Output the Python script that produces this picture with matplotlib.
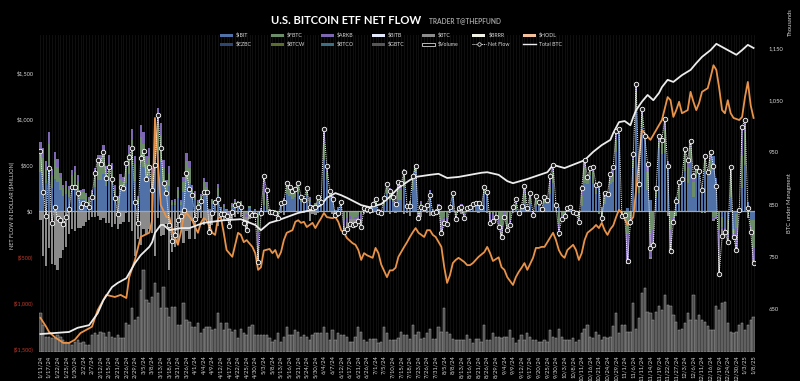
import numpy as np
import pandas as pd
import matplotlib
matplotlib.use('Agg')
import matplotlib.pyplot as plt
from matplotlib.patches import Rectangle
from matplotlib.lines import Line2D

plt.rcParams['font.family'] = ['Lato', 'DejaVu Sans']

# trading days shown on the chart
holidays = ['2024-01-15', '2024-02-19', '2024-03-29', '2024-05-27', '2024-06-19',
            '2024-07-04', '2024-09-02', '2024-11-28', '2024-12-25', '2025-01-01']
days = pd.bdate_range('2024-01-11', '2025-01-08')
days = days[~days.isin(pd.to_datetime(holidays))]
date_labels = [f'{d.month}/{d.day}/{d.strftime("%y")}' for d in days]

# daily net flow, $ million (white dotted line)
net_flow = [
    655, 203, -50, 463, -127, 47, -80, -98, -145, -69,
    22, 257, 264, 199, 47, 83, 76, 47, 156, 409,
    554, 510, 644, 355, 481, 344, 145, -33, 264, 246,
    525, 590, 680, 101, -134, 572, 655, 344, 481, 228,
    505, 1045, 684, 300, 200, -154, -326, -261, -94, -54,
    15, 418, 243, 179, -86, 40, 113, 210, 210, -224,
    -18, 101, 127, -33, -36, -54, -160, -7, 65, 76,
    47, -127, -206, -25, -43, -43, -550, -25, 380, 228,
    -10, -10, -25, -80, 83, 100, 303, 257, 222, 241,
    305, 156, 120, 252, 47, 36, 47, 156, 101, 887,
    488, 217, 131, -40, -18, 100, -226, -200, -145, -152,
    -140, -105, -175, 31, 21, 11, 73, 129, -13, -20,
    143, 295, 216, 156, 78, 310, 301, 422, 53, 54,
    384, 486, -78, 45, 31, 65, 174, -25, -7, 47,
    -235, -134, -145, 47, 192, -90, 29, 47, -80, 29,
    47, 76, 90, 83, 47, 264, 210, -127, -105, -62,
    -170, -279, -62, -206, -152, 47, 127, -25, 54, 271,
    29, 199, -43, 163, 101, 18, 148, 120, 380, 500,
    65, -243, -90, -50, 30, 40, -10, -25, -116, 253,
    555, 373, 463, 474, 279, 294, -79, 192, 188, 402,
    479, 870, 893, -54, -40, -541, -116, 621, 1376, 294,
    1114, 817, 510, -400, -371, 255, 816, 773, 1002, 490,
    -438, -123, 105, 320, 353, 676, 556, 766, 376, 479,
    439, 223, 597, 428, 637, 493, 275, -680, -277, -226,
    -338, 475, -279, -426, 11, 916, 988, 29, -224, -568,
]

gbtc = [
    -95, -484, -594, -398, -579, -590, -641, -515, -429, -394,
    -255, -192, -220, -187, -182, -159, -120, -100, -70, -60,
    -51, -95, -73, -131, -133, -175, -137, -199, -140, -120,
    -22, -125, -216, -492, -300, -368, -200, -250, -200, -240,
    -494, -79, -276, -257, -139, -642, -443, -386, -358, -170,
    -350, -212, -299, -104, -302, -81, -75, -150, -100, -210,
    -150, -17, -166, -80, -110, -80, -135, -90, -60, -35,
    -66, -130, -140, -83, -25, -70, -167, -54, 63, 4,
    -30, -20, -40, -50, -20, -40, -10, -15, 0, -10,
    -15, -10, -20, -10, -105, -30, -40, -20, -15, 28,
    15, -15, -30, -40, -60, -10, -60, -80, -60, -62,
    -53, -34, -90, -30, -20, -30, -27, 0, -32, -30,
    28, 25, -37, -10, -20, -15, -10, -30, -20, -53,
    -10, -12, -10, -60, -15, -20, -50, -10, -20, -30,
    -40, -50, -30, -20, 0, -20, -15, -30, -20, -15,
    -10, -10, -10, -20, -15, -10, -20, -20, -20, -30,
    -30, -50, -10, -60, -20, -20, 0, -10, -10, -10,
    -10, 0, -10, 0, -10, -10, 0, -10, 0, 0,
    -10, -40, -10, -10, 0, -10, -10, -10, -20, 0,
    0, 0, 0, 0, 0, 0, -20, 0, 0, 0,
    0, 0, 0, 0, -10, -20, -10, 0, 0, -10,
    0, 0, 0, -20, -30, -10, 0, 0, 0, -50,
    -40, -20, -10, 0, 0, 0, 0, 0, 0, -10,
    0, 0, -20, 0, 0, -20, -20, -188, -80, -30,
    -40, 0, -20, -20, -10, 0, 0, -20, -50, -40,
]

ibit = [
    420, 380, 300, 470, 250, 350, 310, 230, 160, 180,
    150, 250, 270, 210, 125, 135, 110, 80, 125, 260,
    335, 335, 400, 270, 340, 290, 155, 90, 225, 205,
    305, 400, 500, 330, 90, 525, 475, 330, 380, 260,
    560, 620, 535, 310, 190, 270, 65, 70, 145, 65,
    205, 350, 300, 155, 120, 65, 105, 200, 170, 20,
    75, 65, 160, 30, 40, 15, 0, 45, 70, 60,
    62, 0, 0, 32, 0, 15, -37, 15, 60, 20,
    0, 0, 0, 0, 60, 80, 180, 160, 135, 150,
    190, 100, 90, 160, 100, 40, 55, 110, 75, 550,
    350, 150, 120, 10, 30, 70, 0, 0, 0, 0,
    -2, 0, 0, 45, 25, 20, 80, 70, 0, 0,
    60, 187, 121, 100, 72, 120, 117, 260, 60, 80,
    230, 420, 0, 70, 35, 70, 205, 20, 20, 50,
    0, 0, 0, 50, 140, 0, 30, 60, 0, 35,
    40, 60, 70, 70, 45, 200, 200, 0, 0, 0,
    0, 0, 0, 0, 0, 20, 20, 0, 25, 90,
    15, 80, 0, 60, 50, 15, 90, 80, 180, 300,
    40, 40, 0, 0, 20, 30, 0, 0, 0, 50,
    300, 290, 390, 309, 180, 330, 40, 80, 165, 290,
    315, 640, 872, 0, 0, 38, 0, 470, 1100, 200,
    900, 780, 230, 120, 0, 150, 680, 620, 630, 510,
    0, 0, 140, 135, 340, 430, 300, 570, 150, 370,
    430, 240, 430, 390, 440, 600, 360, 0, -70, -190,
    -100, 150, -200, -36, 10, 250, 500, 100, -100, -100,
]

fbtc = [
    200, 200, 160, 260, 140, 200, 170, 130, 90, 100,
    90, 140, 150, 120, 70, 75, 60, 45, 70, 140,
    180, 180, 210, 145, 185, 155, 85, 50, 120, 110,
    165, 215, 270, 180, 50, 280, 255, 180, 205, 140,
    300, 340, 290, 165, 100, 145, 35, 35, 80, 35,
    110, 190, 165, 85, 65, 35, 55, 110, 95, 0,
    40, 35, 90, 12, 22, 8, -10, 25, 38, 34,
    34, 3, -30, 18, -10, 8, -191, 8, 140, 110,
    10, 5, 10, -20, 25, 40, 90, 75, 60, 65,
    85, 45, 30, 70, 35, 15, 20, 40, 25, 190,
    80, 50, 25, -10, 5, 25, -100, -80, -50, -83,
    -60, -40, -35, 10, 10, 12, 12, 50, 10, 5,
    40, 61, 91, 40, 15, 115, 120, 120, 5, 15,
    110, 50, -30, 20, 5, 10, 10, -20, -5, 15,
    -100, -60, -80, 10, 30, -40, 5, 10, -30, 5,
    10, 15, 20, 20, 10, 45, 15, -30, -30, -20,
    -60, -162, -15, -150, -85, 30, 65, 0, 20, 100,
    20, 60, -10, 60, 40, 5, 30, 30, 80, 120,
    25, -144, -40, -20, 5, 10, 5, -10, -60, 110,
    170, 50, 40, 110, 60, -20, -50, 70, 10, 60,
    100, 133, 12, -20, -20, -250, -70, 95, 190, 70,
    130, 20, 190, -250, -200, 80, 80, 110, 260, 10,
    -200, -60, -40, 150, 0, 210, 180, 120, 170, 80,
    0, -20, 140, 20, 120, -60, -50, -208, -100, 0,
    -150, 250, -40, -154, 10, 360, 370, -50, -60, -300,
]

# traded dollar volume, $ billion
volume = [
    5.7, 3.9, 2.2, 2.2, 2.0, 2.0, 2.5, 2.2, 1.7, 1.5,
    1.3, 1.0, 1.5, 1.7, 1.3, 1.5, 1.0, 1.0, 2.5, 2.7,
    2.5, 2.9, 2.7, 2.2, 2.9, 2.2, 2.0, 2.5, 2.0, 2.0,
    4.2, 3.9, 6.3, 4.6, 5.0, 9.0, 11.9, 7.5, 7.1, 8.0,
    10.0, 8.5, 6.3, 9.4, 6.3, 5.1, 6.5, 6.5, 3.9, 3.9,
    7.1, 4.6, 4.4, 3.6, 3.6, 4.2, 2.7, 3.3, 3.6, 3.6,
    3.2, 3.4, 5.6, 4.2, 3.2, 4.2, 3.4, 2.9, 3.2, 2.0,
    3.4, 2.7, 2.5, 3.6, 3.9, 2.5, 2.5, 2.5, 2.5, 2.5,
    2.0, 1.5, 1.7, 2.7, 1.5, 2.2, 3.6, 2.5, 2.5, 3.2,
    2.9, 2.2, 2.5, 2.2, 1.7, 2.5, 2.7, 2.7, 2.7, 3.6,
    2.7, 1.7, 3.2, 1.7, 2.7, 2.5, 2.4, 2.2, 1.5, 1.5,
    2.2, 3.6, 2.9, 1.7, 1.5, 1.9, 1.9, 1.9, 1.3, 1.5,
    3.6, 2.7, 1.7, 1.7, 1.7, 2.0, 2.9, 2.5, 2.5, 1.9,
    3.9, 2.5, 2.9, 1.9, 2.0, 2.7, 3.4, 1.9, 1.9, 3.6,
    2.9, 6.3, 2.9, 2.6, 1.9, 1.7, 1.7, 1.8, 1.7, 2.5,
    1.9, 1.3, 1.9, 1.9, 1.4, 3.9, 1.7, 1.8, 2.8, 2.2,
    2.2, 2.0, 2.1, 2.1, 3.2, 2.0, 1.3, 1.7, 2.5, 1.7,
    2.7, 2.2, 1.7, 1.7, 1.5, 1.5, 1.7, 1.5, 3.2, 2.2,
    2.0, 3.3, 2.2, 1.7, 1.7, 1.8, 2.0, 1.5, 1.7, 2.7,
    3.3, 3.9, 2.2, 2.0, 2.9, 2.5, 1.7, 2.2, 2.0, 2.2,
    3.7, 5.6, 2.7, 3.9, 3.9, 2.9, 2.9, 7.1, 3.4, 4.9,
    8.5, 9.2, 5.8, 5.6, 4.6, 5.8, 6.6, 6.1, 8.3, 6.8,
    6.6, 5.4, 4.4, 3.2, 3.4, 4.2, 5.6, 4.6, 8.3, 4.6,
    5.4, 4.6, 4.4, 3.7, 3.2, 3.2, 6.6, 6.1, 7.1, 7.3,
    4.2, 2.9, 2.7, 2.9, 3.9, 4.2, 3.2, 3.9, 4.6, 5.1,
]

# (day index, thousand BTC)
total_btc_pts = [
    (0, 602), (10, 606), (13, 614), (17, 619), (20, 642), (22, 667), (25, 692),
    (27, 700), (30, 709), (33, 738), (35, 753), (38, 769), (39, 778), (40, 796),
    (42, 811), (43, 811), (45, 801), (49, 805), (52, 805), (57, 815), (64, 820),
    (70, 822), (75, 811), (77, 801), (80, 815), (83, 820), (90, 834), (95, 840),
    (98, 849), (100, 863), (103, 872), (105, 868), (107, 863), (112, 849),
    (115, 845), (119, 851), (122, 865), (125, 882), (129, 897), (131, 903),
    (136, 907), (139, 909), (142, 901), (146, 903), (154, 911), (156, 912),
    (160, 907), (163, 895), (165, 891), (170, 899), (177, 912), (179, 926),
    (183, 920), (190, 935), (193, 951), (196, 964), (199, 974), (200, 987),
    (202, 1008), (204, 1010), (206, 1002), (207, 1018), (208, 1031), (210, 1047),
    (212, 1060), (214, 1050), (216, 1064), (217, 1075), (219, 1089), (221, 1085),
    (224, 1098), (227, 1108), (229, 1121), (231, 1133), (234, 1146), (236, 1158),
    (238, 1152), (240, 1146), (243, 1137), (245, 1146), (247, 1156), (249, 1150),
]

# (day index, value on right scale)
hodl_pts = [
    (0, 633), (2, 616), (3, 606), (5, 596), (8, 585), (10, 585), (12, 591), (14, 604),
    (16, 610), (18, 616), (20, 648), (23, 677), (26, 673), (28, 677), (30, 671),
    (31, 711), (33, 744), (35, 788), (38, 796), (39, 820), (40, 1016), (41, 935),
    (42, 849), (44, 826), (45, 826), (46, 801), (48, 773), (49, 796), (50, 826),
    (51, 834), (53, 820), (54, 807), (55, 796), (56, 815), (57, 824), (58, 820),
    (60, 796), (61, 792), (62, 824), (63, 826), (64, 796), (65, 763), (67, 750),
    (68, 773), (69, 796), (70, 792), (71, 778), (72, 782), (74, 769), (75, 757),
    (76, 725), (77, 730), (78, 762), (80, 765), (81, 757), (82, 763), (83, 748),
    (84, 759), (85, 782), (86, 796), (88, 801), (89, 817), (90, 820), (91, 815),
    (92, 817), (93, 807), (95, 815), (96, 805), (97, 815), (98, 824), (99, 834),
    (100, 826), (102, 824), (103, 826), (104, 817), (105, 801), (106, 796),
    (107, 786), (109, 776), (110, 773), (111, 763), (112, 744), (113, 757),
    (114, 753), (116, 748), (117, 767), (118, 757), (119, 735), (121, 711),
    (122, 724), (123, 724), (124, 729), (125, 750), (127, 769), (128, 778),
    (129, 788), (130, 797), (131, 805), (132, 796), (134, 788), (135, 801),
    (136, 801), (137, 792), (138, 788), (140, 769), (141, 730), (142, 700),
    (143, 715), (144, 738), (145, 744), (146, 748), (148, 740), (149, 734),
    (150, 734), (151, 738), (152, 744), (153, 750), (155, 759), (156, 769),
    (157, 757), (158, 742), (160, 749), (161, 730), (162, 725), (163, 711),
    (165, 696), (166, 711), (167, 721), (168, 729), (169, 738), (170, 725),
    (172, 748), (173, 767), (174, 767), (175, 769), (176, 769), (177, 778),
    (179, 796), (180, 782), (181, 763), (182, 753), (183, 748), (184, 763),
    (186, 773), (187, 763), (188, 744), (189, 757), (190, 782), (191, 796),
    (193, 805), (194, 811), (195, 805), (196, 815), (197, 801), (198, 792),
    (199, 803), (200, 810), (201, 826), (202, 840), (203, 834), (205, 811),
    (207, 826), (208, 878), (210, 993), (212, 980), (213, 974), (215, 993),
    (217, 1012), (219, 1056), (220, 1050), (221, 1018), (222, 1031), (223, 1047),
    (224, 1025), (226, 1031), (227, 1066), (228, 1047), (229, 1031), (230, 1045),
    (231, 1066), (233, 1073), (234, 1094), (235, 1117), (236, 1108), (237, 1073),
    (238, 1031), (239, 1025), (240, 1050), (241, 1025), (242, 1016), (244, 1012),
    (245, 1018), (246, 1056), (247, 1085), (248, 1040), (249, 1016),
]

x = np.arange(len(days))
net_arr = np.array(net_flow, float)
# flows of the remaining funds = net minus the named ones
others = net_arr - np.array(gbtc) - np.array(ibit) - np.array(fbtc)

c_ibit = '#4f71a8'
c_fbtc = '#6b8d68'
c_arkb = '#7d67b3'
c_gbtc = '#8a8a8a'
txt = '#d6d6d6'
red = '#c0392b'

W, H = 800, 381
fig = plt.figure(figsize=(W / 100, H / 100), dpi=100, facecolor='black')
rect = [39 / W, 1 - 352 / H, 716 / W, 317 / H]

# volume bars sit in their own axes, behind everything
ax_vol = fig.add_axes(rect, facecolor='black')
ax_vol.vlines(x, 0, 46, color='#161616', lw=0.5, zorder=0)
ax_vol.bar(x, volume, width=0.8, color='#4a4a4a', edgecolor='#a8a8a8', linewidth=0.35, zorder=1)
ax_vol.set_ylim(0, 45.9)

ax = fig.add_axes(rect)
ax.patch.set_alpha(0)
pos_base = np.zeros(len(x))
neg_base = np.zeros(len(x))
for vals, color in [(ibit, c_ibit), (fbtc, c_fbtc), (others, c_arkb), (gbtc, c_gbtc)]:
    v = np.asarray(vals, float)
    pos = np.where(v > 0, v, 0)
    neg = np.where(v < 0, v, 0)
    ax.bar(x, pos, bottom=pos_base, width=0.8, color=color, linewidth=0)
    ax.bar(x, neg, bottom=neg_base, width=0.8, color=color, linewidth=0)
    pos_base += pos
    neg_base += neg
ax.axhline(0, color='#a6a6a6', lw=0.9, zorder=3)
ax.set_ylim(-1532.6, 1913)

yt = [1500, 1000, 500, 0, -500, -1000, -1500]
ax.set_yticks(yt, [f'${v:,}' if v >= 0 else f'(${-v:,})' for v in yt])
for lab, v in zip(ax.get_yticklabels(), yt):
    lab.set_color(red if v < 0 else txt)
ax.tick_params(axis='y', length=0, labelsize=4, pad=4)
ax.set_xticks(x[::3], [date_labels[i] for i in x[::3]], rotation=90)
ax.tick_params(axis='x', length=0, labelsize=4.2, colors=txt, pad=2.5)

ax_r = ax.twinx()
ti, tv = zip(*total_btc_pts)
hi, hv = zip(*hodl_pts)
ax_r.plot(hi, hv, color='#e8924a', lw=1.3, solid_joinstyle='round')
ax_r.plot(ti, tv, color='#ececec', lw=1.3, solid_joinstyle='round')
ax_r.set_ylim(567.6, 1174.9)
rt = [1150, 1050, 950, 850, 750, 650]
ax_r.set_yticks(rt, [f'{v:,}' for v in rt])
ax_r.tick_params(axis='y', length=0, labelsize=4.2, colors=txt, pad=10)

# net flow on top of everything
ax_n = fig.add_axes(rect)
ax_n.patch.set_alpha(0)
ax_n.plot(x, net_arr, ls=(0, (1, 1)), color='white', lw=0.7, marker='o', ms=3.2,
          mfc='#1e1e1e', mec='white', mew=0.6)
ax_n.set_ylim(ax.get_ylim())

for a in (ax_vol, ax, ax_r, ax_n):
    a.set_xlim(-0.5, len(x) - 0.5)
    for s in a.spines.values():
        s.set_visible(False)
for a in (ax_vol, ax_n):
    a.set_xticks([])
    a.set_yticks([])

# titles and axis captions
fig.text(346 / W, 1 - 20 / H, 'U.S. BITCOIN ETF NET FLOW', ha='center', va='center',
         fontsize=8.1, fontweight='bold', color='white')
fig.text(429 / W, 1 - 21 / H, 'TRADER T@THEPFUND', ha='left', va='center',
         fontsize=4.8, fontweight='bold', color='#a0a0a0')
fig.text(11 / W, 1 - 205 / H, 'NET FLOW IN DOLLAR ($MILLION)', rotation=90,
         ha='center', va='center', fontsize=4, color=txt)
fig.text(790 / W, 1 - 203 / H, 'BTC under Managment', rotation=90,
         ha='center', va='center', fontsize=4.2, color=txt)
fig.text(790 / W, 1 - 22 / H, 'Thousands', rotation=90,
         ha='center', va='center', fontsize=4.2, color=txt)

# legend, two rows of seven
legend_rows = [
    [('$IBIT', 'bar', c_ibit), ('$FBTC', 'bar', c_fbtc), ('$ARKB', 'bar', c_arkb),
     ('$BITB', 'bar', '#e3e9fb'), ('$BTC', 'bar', '#8c8c8c'), ('$BRRR', 'bar', '#f1f1e6'),
     ('$HODL', 'bar', '#f4c09a')],
    [('$EZBC', 'bar', '#2f4770'), ('$BTCW', 'bar', '#5b6e30'), ('$BTCO', 'bar', '#3d6e82'),
     ('$GBTC', 'bar', '#565656'), ('$Volume', 'hollow', None), ('Net Flow', 'dots', None),
     ('Total BTC', 'line', None)],
]
for r, row in enumerate(legend_rows):
    yp = 35 + 9 * r
    yf = 1 - yp / H
    for c, (name, kind, color) in enumerate(row):
        x0 = 220 + 50.5 * c
        if kind == 'bar':
            fig.add_artist(Rectangle((x0 / W, 1 - (yp + 1.5) / H), 13 / W, 3 / H,
                                     transform=fig.transFigure, color=color, lw=0))
        elif kind == 'hollow':
            fig.add_artist(Rectangle((x0 / W, 1 - (yp + 1.5) / H), 13 / W, 3 / H,
                                     transform=fig.transFigure, facecolor='black',
                                     edgecolor='white', lw=0.5))
        elif kind == 'dots':
            fig.add_artist(Line2D([x0 / W, (x0 + 13) / W], [yf, yf], transform=fig.transFigure,
                                  ls=(0, (1, 1)), color='white', lw=0.7))
            fig.add_artist(Line2D([(x0 + 6.5) / W], [yf], transform=fig.transFigure,
                                  marker='o', ms=2.5, mfc='black', mec='white', mew=0.5))
        else:
            fig.add_artist(Line2D([x0 / W, (x0 + 13) / W], [yf, yf], transform=fig.transFigure,
                                  color='#ececec', lw=1))
        fig.text((x0 + 16) / W, yf, name, ha='left', va='center', fontsize=3.8, color=txt)

fig.savefig('out.png', dpi=100, facecolor='black')
